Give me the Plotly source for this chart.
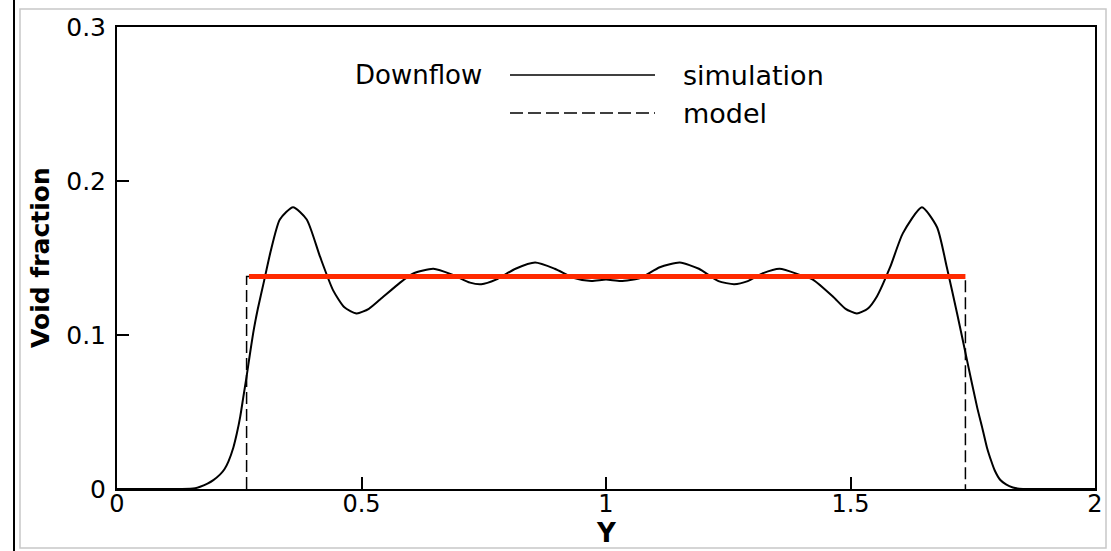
import plotly.graph_objects as go

# ---- data ----
sim_y = [0.00, 0.05, 0.10, 0.13, 0.15, 0.160, 0.170, 0.185, 0.197, 0.211,
         0.220, 0.228, 0.238, 0.245, 0.252, 0.258, 0.265, 0.272, 0.280, 0.288,
         0.300, 0.314, 0.333, 0.360, 0.388, 0.415, 0.442, 0.465, 0.490, 0.515,
         0.538, 0.579, 0.606, 0.647, 0.687, 0.722, 0.745, 0.775, 0.815, 0.855,
         0.895, 0.935, 0.970, 1.000, 1.030, 1.070, 1.110, 1.151, 1.190, 1.230,
         1.262, 1.290, 1.320, 1.355, 1.397, 1.423, 1.464, 1.490, 1.513, 1.535,
         1.554, 1.581, 1.607, 1.646, 1.677, 1.697, 1.718, 1.738, 1.759, 1.770,
         1.779, 1.788, 1.795, 1.806, 1.818, 1.832, 1.845, 1.87, 1.90, 1.95, 2.0]
sim_void = [0.0, 0.0, 0.0, 0.0, 0.0001, 0.0005, 0.0015, 0.0035, 0.0058, 0.0095,
            0.0130, 0.0180, 0.027, 0.036, 0.047, 0.059, 0.073, 0.088, 0.104, 0.117,
            0.134, 0.154, 0.175, 0.183, 0.175, 0.151, 0.129, 0.118, 0.114, 0.117,
            0.123, 0.134, 0.140, 0.143, 0.139, 0.134, 0.133, 0.136, 0.143, 0.147,
            0.143, 0.137, 0.135, 0.136, 0.135, 0.137, 0.144, 0.147, 0.143, 0.135,
            0.133, 0.135, 0.140, 0.143, 0.139, 0.136, 0.125, 0.117, 0.114, 0.117,
            0.125, 0.144, 0.166, 0.183, 0.170, 0.144, 0.114, 0.084, 0.053, 0.039,
            0.027, 0.018, 0.012, 0.006, 0.003, 0.001, 0.0002, 0.0, 0.0, 0.0, 0.0]

model_y = [0.265, 0.265, 1.735, 1.735]
model_void = [0.0, 0.138, 0.138, 0.0]

red_y = [0.27, 1.735]
red_void = [0.138, 0.138]

x_ticks = [0, 0.5, 1, 1.5, 2]
x_tick_text = ["0", "0.5", "1", "1.5", "2"]
y_ticks = [0, 0.1, 0.2, 0.3]
y_tick_text = ["0", "0.1", "0.2", "0.3"]

x_title = "Y"
y_title = "Void fraction"
legend_title = "Downflow"
legend_labels = ["simulation", "model"]

# ---- layout geometry (pixels) ----
W, H = 1111, 551
L, R, T, B = 117, 1095, 27, 489

def px(xp):
    return (xp - L) / (R - L)

def py(yp):
    return (B - yp) / (B - T)

FONT = "DejaVu Sans"

fig = go.Figure()
fig.add_trace(go.Scatter(x=model_y, y=model_void, mode="lines",
                         line=dict(color="black", width=1.5, dash="12px,5px"),
                         showlegend=False, hoverinfo="skip"))
fig.add_trace(go.Scatter(x=sim_y, y=sim_void, mode="lines",
                         line=dict(color="black", width=2, shape="spline", smoothing=0.6),
                         showlegend=False))
fig.add_trace(go.Scatter(x=red_y, y=red_void, mode="lines",
                         line=dict(color="#ff2a00", width=5),
                         showlegend=False))

shapes = [
    # legend sample lines
    dict(type="line", xref="paper", yref="paper", x0=px(510), x1=px(655),
         y0=py(75), y1=py(75), line=dict(color="black", width=1.5)),
    dict(type="line", xref="paper", yref="paper", x0=px(510), x1=px(655),
         y0=py(113), y1=py(113), line=dict(color="black", width=1.5, dash="13px,5px")),
    # outer decorations
    dict(type="rect", xref="paper", yref="paper", x0=px(20), x1=px(1106),
         y0=py(548), y1=py(9), line=dict(color="#c8c8c8", width=1.5), layer="below"),
    dict(type="line", xref="paper", yref="paper", x0=px(14), x1=px(14),
         y0=py(551), y1=py(0), line=dict(color="black", width=2)),
]

annotations = [
    dict(text=legend_title, xref="paper", yref="paper", x=px(353), y=py(75),
         xanchor="left", yanchor="middle", showarrow=False,
         font=dict(family=FONT, size=26, color="black")),
    dict(text=legend_labels[0], xref="paper", yref="paper", x=px(681), y=py(75),
         xanchor="left", yanchor="middle", showarrow=False,
         font=dict(family=FONT, size=27, color="black")),
    dict(text=legend_labels[1], xref="paper", yref="paper", x=px(681), y=py(113),
         xanchor="left", yanchor="middle", showarrow=False,
         font=dict(family=FONT, size=27, color="black")),
    # axis titles
    dict(text="<b>" + x_title + "</b>", xref="paper", yref="paper", x=0.5, y=py(533),
         xanchor="center", yanchor="middle", showarrow=False,
         font=dict(family=FONT, size=26, color="black")),
    dict(text="<b>" + y_title + "</b>", xref="paper", yref="paper", x=px(40), y=0.5,
         xanchor="center", yanchor="middle", showarrow=False, textangle=-90,
         font=dict(family=FONT, size=25, color="black")),
]

fig.update_layout(
    width=W, height=H,
    margin=dict(l=L, r=W - R, t=T, b=H - B, autoexpand=False),
    paper_bgcolor="white", plot_bgcolor="white",
    showlegend=False,
    shapes=shapes, annotations=annotations,
    font=dict(family=FONT, color="black"),
)
fig.update_xaxes(range=[0, 2], tickvals=x_ticks, ticktext=x_tick_text,
                 ticks="inside", ticklen=12, tickwidth=1.5, tickcolor="black",
                 showline=True, linecolor="black", linewidth=2, mirror=True,
                 showgrid=False, zeroline=False, ticklabelstandoff=-8,
                 tickfont=dict(family=FONT, size=24, color="black"))
fig.update_yaxes(range=[0, 0.3], tickvals=y_ticks, ticktext=y_tick_text,
                 ticks="inside", ticklen=12, tickwidth=1.5, tickcolor="black",
                 showline=True, linecolor="black", linewidth=2, mirror=True,
                 showgrid=False, zeroline=False, ticklabelstandoff=4,
                 tickfont=dict(family=FONT, size=25, color="black"))

fig.write_html("out.html")
